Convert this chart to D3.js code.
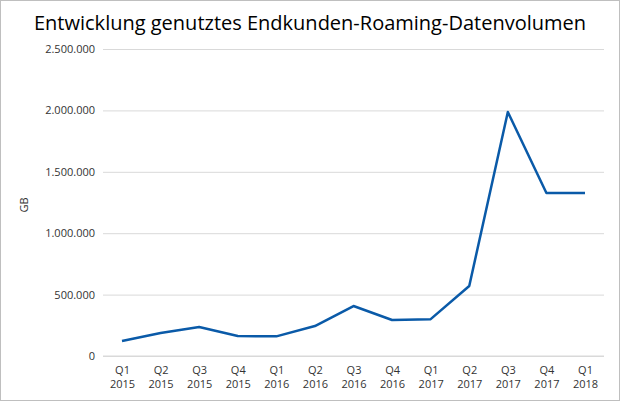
<!DOCTYPE html>
<html><head><meta charset="utf-8">
<script src="https://cdn.jsdelivr.net/npm/d3@7"></script>
<style>body{margin:0;background:#fff}text{font-family:"Open Sans",sans-serif}</style>
</head><body><svg id="c" width="620" height="401"></svg>
<script>
const quarters = ["Q1","Q2","Q3","Q4","Q1","Q2","Q3","Q4","Q1","Q2","Q3","Q4","Q1"];
const years = ["2015","2015","2015","2015","2016","2016","2016","2016","2017","2017","2017","2017","2018"];
const values = [122000,187000,236000,163000,160000,244000,407000,293000,300000,570000,1987000,1327000,1327000];
const yTicks = [0,500000,1000000,1500000,2000000,2500000];

const svg = d3.select("#c");
svg.append("rect").attr("x",0.5).attr("y",0.5).attr("width",619).attr("height",400)
  .attr("fill","#fff").attr("stroke","#bfbfbf");
svg.append("text").attr("x",310).attr("y",30).attr("text-anchor","middle")
  .attr("font-size",20).attr("fill","#000").text("Entwicklung genutztes Endkunden-Roaming-Datenvolumen");

const plotLeft = 103, plotRight = 604, plotTop = 49, plotBottom = 356;
const keys = d3.range(values.length);
const x = d3.scalePoint().domain(keys).range([122,585]);
const y = d3.scaleLinear().domain([0,2500000]).range([plotBottom,plotTop]);
const fmt = v => d3.format(",")(v).replace(/,/g,".");

const ya = svg.append("g").attr("transform",`translate(${plotLeft},0)`)
  .call(d3.axisLeft(y).tickValues(yTicks).tickFormat(fmt).tickSize(-(plotRight-plotLeft)).tickPadding(8));
ya.select(".domain").remove();
ya.selectAll("line").attr("stroke","#d9d9d9");
ya.selectAll("text").attr("font-size",11).attr("fill","#333");

svg.append("line").attr("x1",plotLeft).attr("x2",plotRight).attr("y1",plotBottom).attr("y2",plotBottom).attr("stroke","#d9d9d9");

const xa = svg.append("g").attr("transform",`translate(0,${plotBottom})`)
  .call(d3.axisBottom(x).tickSize(0).tickFormat(""));
xa.select(".domain").remove();
xa.selectAll(".tick text").each(function(d){
  const t = d3.select(this).attr("font-size",11).attr("fill","#333").attr("y",0);
  t.append("tspan").attr("x",0).attr("dy","1.6em").text(quarters[d]);
  t.append("tspan").attr("x",0).attr("dy","1.3em").text(years[d]);
});

svg.append("text").attr("transform","translate(28,205) rotate(-90)").attr("text-anchor","middle")
  .attr("font-size",11).attr("fill","#333").text("GB");

svg.append("path").datum(values)
  .attr("fill","none").attr("stroke","#0a5aa8").attr("stroke-width",2.5).attr("stroke-linejoin","round")
  .attr("d", d3.line().x((d,i)=>x(i)).y(d=>y(d)));
</script></body></html>
